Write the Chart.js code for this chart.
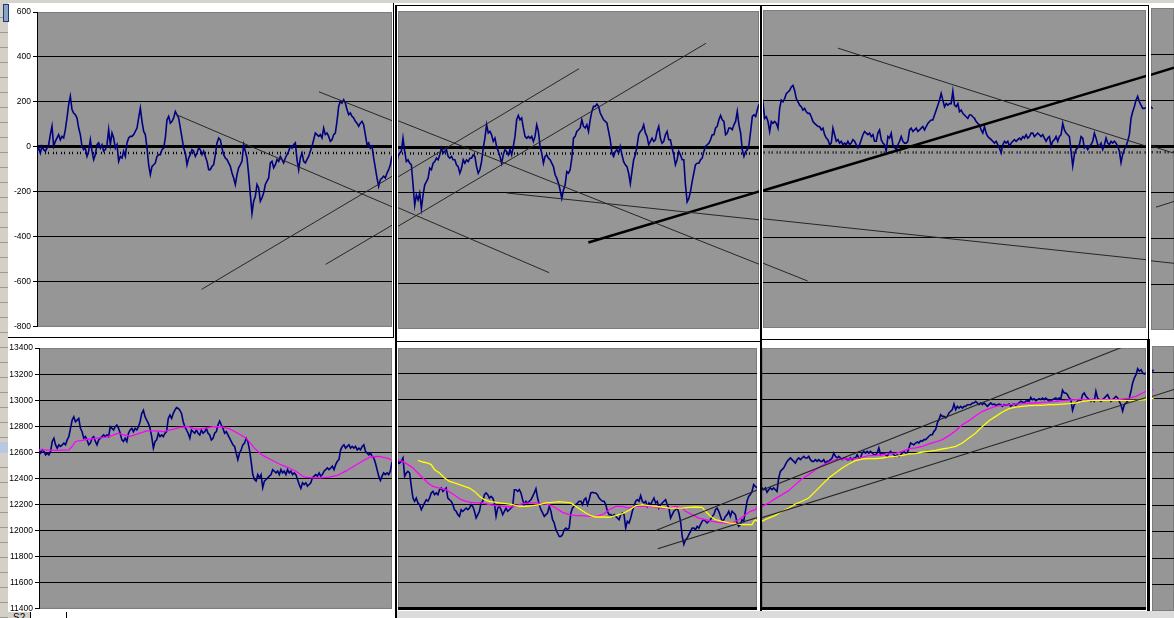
<!DOCTYPE html>
<html>
<head>
<meta charset="utf-8">
<script src="https://cdn.jsdelivr.net/npm/chart.js@4.4.0/dist/chart.umd.min.js"></script>
<style>
html, body { margin: 0; padding: 0; width: 1174px; height: 618px; overflow: hidden; background: #fff; }
body { position: relative; font-family: 'Liberation Sans', Arial, sans-serif; }
.d { position: absolute; }
.k { position: absolute; background: #000; z-index: 2; }
</style>
</head>
<body>
<!-- sheet chrome -->
<div class="d" style="left:0;top:0;width:1174px;height:3px;background:#d6d3ce"></div>
<div class="d" style="left:0;top:3px;width:8px;height:615px;background:repeating-linear-gradient(#d4d0c8 0 14px,#9c9890 14px 15px)"></div>
<div class="d" style="left:3px;top:4px;width:4px;height:16px;border:1px solid #1c3a70;background:#8aa4c4"></div>
<div class="d" style="left:0;top:442px;width:8px;height:11px;background:#b8c8e0"></div>
<!-- window frames -->
<div class="k" style="left:393px;top:3px;width:1px;height:335px"></div>
<div class="k" style="left:395px;top:5px;width:2px;height:613px"></div>
<div class="k" style="left:395px;top:5px;width:754px;height:1px"></div>
<div class="k" style="left:8px;top:337px;width:386px;height:1px"></div>
<div class="k" style="left:395px;top:341px;width:366px;height:1px"></div>
<div class="k" style="left:760px;top:5px;width:2px;height:613px"></div>
<div class="k" style="left:760px;top:339px;width:389px;height:1px"></div>
<div class="k" style="left:1148px;top:5px;width:1px;height:335px"></div>
<div class="k" style="left:1147px;top:339px;width:3px;height:272px"></div>
<div class="d" style="left:397px;top:611px;width:777px;height:7px;background:#dcdcdc;z-index:2"></div>
<div class="d" style="left:8px;top:612px;width:387px;height:6px;background:#fff;z-index:3"></div>
<div class="d" style="left:8px;top:612px;width:22px;height:6px;background:#d4d0c8;z-index:3;overflow:hidden;font:10px 'Liberation Sans',Arial,sans-serif;line-height:11px;text-indent:5px">S2</div>
<div class="d" style="left:30px;top:612px;width:35px;height:6px;border-left:1px solid #000;border-right:1px solid #000;z-index:3"></div>

<script>
// ---- data ----
// upper chart: oscillator, one value per bar (index 0..660)
var osc = [
  -19,-5,-27,3,-12,-19,-5,10,55,92,
  3,25,40,55,32,47,40,77,129,188,
  225,166,151,143,129,84,55,3,-12,-5,
  -42,-19,32,-19,-56,-34,10,18,-5,10,
  -19,-12,10,77,10,62,40,-5,10,-64,
  -42,-49,-19,-42,18,40,47,47,55,69,
  84,129,173,114,69,55,-5,-79,-123,-86,
  -79,-71,-42,-34,-34,-12,-5,40,121,136,
  106,114,129,158,143,129,84,40,-5,-27,
  -79,-49,-34,-12,-19,-42,-27,-5,-12,-34,
  -19,-42,-64,-101,-101,-86,-79,-34,18,40,
  32,-5,-34,-49,-56,-71,-86,-116,-138,-167,
  -123,-93,-79,-64,10,-19,-49,-123,-212,-295,
  -241,-219,-167,-182,-241,-226,-204,-167,-152,-138,
  -71,-64,-93,-79,-56,-64,-42,-56,-71,-49,
  -34,-19,3,-5,10,18,-56,-101,-49,-27,
  -64,-71,-56,-42,-19,3,32,62,55,47,
  55,40,84,55,62,47,25,32,55,62,
  114,180,203,195,210,195,166,143,151,136,
  129,114,106,92,106,114,99,55,10,18,
  -5,3,-49,-93,-138,-175,-145,-138,-130,-138,
  -116,-101,-79,
  -40,-26,-18,40,-18,-63,-55,-70,-77,-165,
  -255,-210,-232,-202,-270,-210,-165,-151,-136,-92,
  -99,-70,-63,-48,-55,-33,-4,-26,-18,-11,
  -40,-48,-40,-55,-55,-77,-85,-114,-92,-55,
  -70,-55,-63,-48,-48,-33,-40,-85,-114,-99,
  -63,-4,40,99,63,70,55,26,40,4,
  -18,-40,-70,-33,-11,-18,-33,-11,-33,4,
  48,121,140,121,129,85,48,40,48,40,
  48,26,48,99,70,4,-26,-70,-40,-33,
  -48,-55,-70,-85,-121,-136,-158,-188,-225,-188,
  -165,-107,-114,-99,-48,40,48,70,77,85,
  121,92,85,99,70,121,158,180,180,190,
  180,151,136,121,114,107,70,33,-26,-40,
  -18,-11,-26,4,-33,-63,-77,-85,-114,-160,
  -107,-55,-33,4,55,70,77,99,63,48,
  11,26,40,26,33,70,92,40,18,26,
  55,70,33,33,-4,-33,-77,-55,-18,-33,
  -55,-55,-165,-240,-225,-195,-151,-114,-77,-70,
  -70,-55,-48,-18,4,11,18,33,55,55,
  85,92,121,140,121,114,55,63,85,85,
  77,99,114,158,99,63,-11,-40,-18,-11,
  11,70,136,143,136,165,190,
  123,130,109,65,109,101,109,101,80,167,
  203,196,210,232,239,246,261,268,246,210,
  196,181,174,159,167,152,145,145,130,109,
  101,94,87,87,72,80,51,36,29,7,
  14,80,51,22,29,14,22,7,14,7,
  22,7,14,29,22,7,-7,7,29,51,
  65,58,51,58,43,51,22,22,58,72,
  29,14,7,-22,43,36,58,7,-7,-14,
  7,22,43,22,14,14,22,72,80,65,
  72,80,65,72,80,87,72,87,101,109,
  116,116,138,159,181,203,232,203,174,188,
  181,188,188,242,181,174,188,152,159,145,
  138,130,123,138,138,130,123,109,101,94,
  72,58,87,58,43,36,29,22,14,22,
  7,-7,-29,7,22,14,22,0,14,22,
  29,22,29,36,29,43,36,51,36,43,
  58,58,43,51,58,51,43,51,36,22,
  36,43,0,22,29,43,22,43,51,101,
  72,58,51,43,-22,-87,-36,-14,-7,7,
  43,36,-7,0,-14,0,7,22,58,36,
  7,0,14,-14,7,36,14,7,22,14,
  22,14,0,-22,-72,-36,-14,0,22,51,
  123,152,174,203,220,196,181,167,167,170,
  162
];

// lower chart: price, one value per bar (index 0..660)
var price = [
  12620,12595,12620,12608,12582,12595,12582,12608,12684,12709,
  12658,12633,12658,12646,12658,12671,12658,12696,12721,12785,
  12848,12873,12835,12848,12861,12785,12759,12709,12721,12696,
  12658,12671,12709,12721,12684,12658,12696,12709,12721,12734,
  12721,12734,12721,12797,12785,12772,12797,12810,12785,12747,
  12696,12684,12709,12684,12747,12772,12785,12759,12785,12772,
  12797,12835,12899,12924,12873,12848,12823,12785,12721,12633,
  12684,12696,12747,12721,12734,12721,12747,12759,12861,12886,
  12861,12899,12924,12944,12937,12924,12899,12835,12797,12772,
  12747,12709,12772,12759,12747,12772,12747,12734,12772,12747,
  12759,12785,12747,12734,12696,12709,12747,12759,12810,12840,
  12810,12785,12747,12759,12734,12709,12684,12658,12646,12595,
  12544,12595,12620,12658,12671,12709,12684,12620,12532,12430,
  12392,12380,12430,12405,12430,12329,12380,12392,12405,12418,
  12430,12468,12456,12443,12456,12430,12468,12443,12456,12430,
  12468,12443,12456,12430,12443,12430,12392,12354,12324,12367,
  12354,12367,12342,12354,12367,12405,12418,12430,12418,12443,
  12418,12430,12456,12468,12481,12468,12481,12494,12468,12506,
  12532,12544,12620,12646,12658,12633,12646,12658,12633,12646,
  12633,12646,12620,12633,12620,12646,12658,12608,12595,12582,
  12595,12570,12557,12519,12468,12418,12385,12418,12443,12430,
  12443,12430,12456,
  12528,12515,12528,12554,12413,12438,12451,12438,12336,12246,
  12221,12246,12208,12195,12156,12182,12208,12233,12221,12246,
  12285,12297,12272,12285,12272,12310,12323,12297,12310,12323,
  12246,12233,12221,12195,12156,12144,12118,12105,12156,12144,
  12156,12169,12156,12169,12195,12182,12144,12092,12118,12144,
  12208,12221,12272,12285,12272,12246,12259,12246,12208,12105,
  12169,12182,12156,12118,12144,12169,12144,12156,12169,12182,
  12310,12310,12297,12310,12285,12233,12195,12221,12208,12221,
  12233,12259,12285,12318,12246,12195,12156,12131,12105,12118,
  12131,12182,12144,12079,12054,12003,11977,11950,11951,11964,
  12003,12015,12003,12015,12131,12169,12182,12195,12208,12221,
  12221,12195,12233,12246,12195,12233,12285,12290,12285,12285,
  12272,12246,12233,12221,12221,12195,12144,12118,12118,12105,
  12118,12105,12092,12079,12118,12131,12118,12015,12067,12054,
  12092,12144,12182,12221,12233,12221,12264,12221,12208,12221,
  12182,12208,12195,12221,12246,12208,12221,12169,12195,12208,
  12221,12233,12195,12169,12092,12118,12144,12156,12169,12131,
  12067,11951,11890,11926,11938,11964,11990,12015,12015,12003,
  12028,12015,12041,12067,12079,12067,12054,12067,12079,12105,
  12118,12156,12169,12144,12105,12067,12079,12105,12118,12144,
  12105,12144,12131,12118,12054,12028,12041,12079,12067,12144,
  12221,12259,12272,12297,12349,12336,
  12323,12310,12323,12290,12310,12323,12310,12323,12310,12297,
  12400,12451,12464,12477,12503,12528,12541,12554,12541,12528,
  12515,12541,12554,12541,12554,12567,12554,12554,12567,12541,
  12528,12528,12541,12528,12541,12528,12528,12541,12515,12528,
  12528,12541,12554,12592,12567,12554,12567,12554,12541,12554,
  12554,12541,12541,12554,12541,12554,12554,12579,12554,12554,
  12592,12605,12592,12605,12592,12605,12592,12579,12579,12592,
  12631,12579,12592,12592,12579,12567,12592,12605,12592,12579,
  12567,12579,12567,12579,12592,12605,12592,12592,12631,12669,
  12662,12656,12669,12677,12669,12687,12682,12695,12695,12708,
  12721,12733,12733,12759,12772,12823,12849,12887,12874,12874,
  12862,12874,12900,12913,12926,12969,12926,12951,12938,12951,
  12938,12951,12951,12964,12964,12964,12977,12977,12990,12977,
  12964,12977,12964,12977,12964,12951,12964,12977,12964,12969,
  12959,12964,12969,12964,12951,12964,12959,12964,12969,12951,
  12964,12969,12959,12969,12977,12990,12985,12977,12990,12995,
  12990,13020,13003,13010,12995,13003,13010,13003,13015,13003,
  13015,13003,12990,12995,13003,13010,13015,13003,13015,13010,
  13075,13054,13054,13041,13015,13003,12920,12964,12977,12990,
  13003,12990,13041,13054,13028,13015,13003,12990,13003,12990,
  13067,13015,13003,12990,13003,13015,13028,13041,13015,12990,
  13003,13015,13028,13015,12990,12964,12915,12964,12977,12990,
  13015,13067,13131,13169,13195,13241,13221,13233,13208,13200,
  13208,13220
];

// moving averages as [bar, value]
var pinkMA = [
  [0,12620],[10,12615],[18,12620],[20,12645],[22,12684],[25,12691],[30,12701],[35,12709],[40,12716],[45,12734],
  [48,12747],[50,12739],[55,12724],[60,12744],[65,12765],[70,12765],[75,12759],[80,12775],[85,12792],[90,12797],
  [95,12777],[100,12785],[105,12797],[110,12797],[115,12780],[120,12747],[125,12709],[130,12633],[135,12577],[140,12544],
  [145,12511],[150,12486],[155,12456],[160,12410],[165,12405],[170,12405],[175,12410],[180,12423],[185,12456],[190,12494],
  [195,12532],[200,12565],[205,12570],[210,12557],[213,12540],[216,12528],[219,12503],[222,12477],[225,12438],[228,12400],
  [231,12362],[234,12336],[238,12323],[242,12310],[245,12285],[248,12259],[251,12233],[254,12221],[257,12213],[260,12208],
  [264,12208],[268,12195],[272,12187],[276,12182],[280,12177],[284,12187],[288,12203],[292,12208],[296,12208],[300,12203],
  [304,12195],[308,12169],[312,12136],[316,12118],[320,12110],[324,12110],[328,12105],[332,12105],[336,12118],[340,12156],
  [344,12182],[348,12182],[352,12169],[356,12182],[360,12182],[364,12182],[368,12177],[372,12169],[376,12169],[380,12182],
  [384,12169],[386,12144],[390,12118],[394,12092],[398,12079],[402,12067],[406,12059],[410,12054],[414,12054],[418,12079],
  [422,12118],[425,12144],[428,12156],[429,12182],[433,12208],[437,12241],[441,12272],[445,12303],[449,12349],[453,12395],
  [457,12426],[461,12464],[465,12495],[469,12523],[473,12541],[477,12546],[481,12546],[485,12549],[489,12559],[493,12572],
  [497,12574],[501,12579],[505,12585],[509,12590],[513,12605],[517,12626],[521,12631],[525,12644],[529,12662],[533,12677],
  [537,12695],[541,12726],[545,12764],[549,12810],[553,12841],[557,12879],[561,12913],[565,12933],[569,12951],[573,12959],
  [577,12964],[581,12969],[585,12972],[589,12977],[593,12977],[597,12982],[601,12985],[605,12990],[609,12995],[613,13000],
  [617,13003],[621,13003],[625,13003],[629,13003],[633,13003],[637,13003],[641,13003],[645,13008],[649,13015],[653,13028],
  [657,13054],[659,13067],[660,13070]
];
var yellowMA = [
  [225,12536],[228,12523],[231,12515],[233,12503],[235,12464],[238,12438],[241,12400],[244,12374],[247,12362],[250,12349],
  [253,12336],[256,12323],[259,12297],[262,12259],[265,12233],[268,12221],[271,12215],[274,12208],[278,12203],[282,12195],
  [286,12182],[290,12182],[294,12187],[298,12195],[302,12208],[306,12213],[310,12218],[314,12213],[317,12208],[320,12182],
  [323,12156],[326,12131],[329,12110],[332,12100],[336,12100],[340,12097],[344,12110],[348,12126],[351,12144],[354,12169],
  [356,12187],[360,12195],[364,12187],[368,12182],[372,12177],[376,12169],[380,12169],[384,12169],[388,12174],[392,12177],
  [396,12174],[398,12144],[401,12105],[404,12079],[408,12067],[412,12054],[416,12049],[420,12041],[424,12041],[426,12041],
  [427,12067],[428,12079],[429,12067],[433,12092],[437,12113],[441,12144],[445,12169],[449,12200],[453,12221],[457,12246],
  [461,12297],[465,12349],[469,12400],[473,12438],[477,12477],[481,12508],[485,12533],[489,12546],[493,12549],[497,12549],
  [501,12554],[505,12562],[509,12567],[513,12574],[517,12585],[521,12587],[525,12600],[529,12605],[533,12613],[537,12623],
  [541,12631],[545,12644],[549,12669],[553,12708],[557,12746],[561,12797],[565,12841],[569,12874],[573,12908],[577,12933],
  [581,12946],[585,12951],[589,12956],[593,12959],[597,12959],[601,12964],[605,12964],[609,12969],[613,12972],[617,12977],
  [621,12990],[625,12995],[629,12997],[637,12997],[645,12997],[653,12997],[659,13003],[660,13005]
];

// hand-drawn trend lines: [bar0, value0, bar1, value1]
var topLines = [
  [83.8, 143, 303.4, -552],
  [169.2, 245, 455.8, -593],
  [98.8, -633, 321.3, 346],
  [173.2, -522, 397.3, 458],
  [278, -201, 672.8, -510],
  [326.9, -419, 672.8, 340],
  [474, 432, 672.2, -30],
  [662, -266, 672.8, -241]
];
var topLineWidths = [1, 1, 1, 1, 1, 2.5, 1, 1];
var bottomLines = [
  [368.1, 11997, 647.4, 13420],
  [369.3, 11856, 672.2, 13072]
];
var dotLevel = -27;

var topTicks = [600, 400, 200, 0, -200, -400, -600, -800];
var bottomTicks = [13400, 13200, 13000, 12800, 12600, 12400, 12200, 12000, 11800, 11600, 11400];

// ---- drawing ----
Chart.defaults.font.family = "'Liberation Sans', Arial, sans-serif";
var GRAY = '#969696';
var NAVY = '#000080';

var plotBack = {
  id: 'plotBack',
  beforeDraw: function (chart) {
    var a = chart.chartArea, ctx = chart.ctx;
    ctx.save();
    ctx.fillStyle = GRAY;
    ctx.fillRect(a.left, a.top, a.right - a.left, a.bottom - a.top);
    ctx.strokeStyle = '#7d7d7d';
    ctx.lineWidth = 1;
    ctx.strokeRect(a.left + 0.5, a.top + 0.5, a.right - a.left - 1, a.bottom - a.top - 1);
    ctx.restore();
  }
};

function pts(values) { return values.map(function (v, i) { return { x: i, y: v }; }); }
function pairPts(pairs) { return pairs.map(function (p) { return { x: p[0], y: p[1] }; }); }
function seg(l) { return [{ x: l[0], y: l[1] }, { x: l[2], y: l[3] }]; }

function line(data, color, width, extra) {
  var ds = { data: data, borderColor: color, borderWidth: width, pointRadius: 0, tension: 0, fill: false };
  return Object.assign(ds, extra || {});
}

function topSets() {
  var sets = topLines.map(function (l, k) {
    return line(seg(l), topLineWidths[k] > 1 ? '#000' : '#262626', topLineWidths[k]);
  });
  sets.push(line(pts(osc), NAVY, 1.6));
  sets.push(line([{ x: 0, y: dotLevel }, { x: 673, y: dotLevel }], '#000', 2.5, { borderDash: [1, 2, 1, 4] }));
  return sets;
}

function bottomSets() {
  var sets = bottomLines.map(function (l) {
    return line(seg(l), '#262626', 1.1, { clip: { left: 0, right: 0, top: 3, bottom: 0 } });
  });
  sets.push(line(pairPts(yellowMA), '#ffff00', 1.3));
  sets.push(line(pairPts(pinkMA), '#ff00ff', 1.3));
  sets.push(line(pts(price), NAVY, 1.6));
  return sets;
}

function makePanel(p, datasets, ticks, yMin, yMax) {
  var cv = document.createElement('canvas');
  cv.width = p.w;
  cv.height = p.h;
  cv.style.cssText = 'position:absolute;z-index:1;left:' + p.left + 'px;top:' + p.top +
    'px;width:' + p.w + 'px;height:' + p.h + 'px';
  document.body.appendChild(cv);
  var asc = ticks.slice().sort(function (a, b) { return a - b; });
  new Chart(cv.getContext('2d'), {
    type: 'line',
    data: { datasets: datasets },
    plugins: [plotBack],
    options: {
      responsive: false,
      animation: false,
      events: [],
      normalized: true,
      layout: { padding: p.pad || 0 },
      plugins: { legend: { display: false }, tooltip: { enabled: false } },
      scales: {
        x: {
          type: 'linear', min: p.x0, max: p.x1, display: !!p.axisLine,
          ticks: { display: false },
          grid: { display: false, drawTicks: false },
          border: { display: !!p.axisLine, color: '#000', width: 3 }
        },
        y: {
          min: yMin, max: yMax,
          afterBuildTicks: function (s) { s.ticks = asc.map(function (v) { return { value: v }; }); },
          afterFit: function (s) { s.width = p.axisW || 0; },
          ticks: {
            display: !!p.labels, color: '#000', padding: 2, autoSkip: false,
            font: { size: 8.5 },
            callback: function (v) { return String(v); }
          },
          grid: {
            color: function (c) {
              return (c.tick && (c.tick.value === yMin || c.tick.value === yMax)) ? 'rgba(0,0,0,0)' : '#000';
            },
            lineWidth: function (c) { return (c.tick && c.tick.value === 0) ? 3 : 1; },
            drawTicks: !!p.labels, tickLength: 4, tickColor: '#000', tickWidth: 1
          },
          border: { display: !!p.labels, color: '#000', width: 1 }
        }
      }
    }
  });
}

var topPanels = [
  { left: 8, top: 4, w: 385, h: 330, axisW: 29, labels: true, pad: { top: 8, bottom: 6, right: 1, left: 0 }, x0: 0, x1: 213 },
  { left: 398, top: 11, w: 361, h: 318, x0: 213, x1: 429 },
  { left: 763, top: 10, w: 383, h: 318, x0: 429, x1: 659 },
  { left: 1151, top: 8, w: 23, h: 322, x0: 659, x1: 672.8 }
];
var bottomPanels = [
  { left: 8, top: 341, w: 385, h: 275, axisW: 31, labels: true, pad: { top: 6, bottom: 6, right: 1, left: 0 }, x0: 0, x1: 213 },
  { left: 398, top: 348, w: 359, h: 262, axisLine: true, pad: { top: 0, bottom: 2, left: 0, right: 0 }, x0: 213, x1: 429 },
  { left: 762, top: 348, w: 384, h: 262, axisLine: true, pad: { top: 0, bottom: 2, left: 0, right: 0 }, x0: 429, x1: 659 },
  { left: 1152, top: 346, w: 22, h: 265, x0: 659, x1: 672.2 }
];

topPanels.forEach(function (p) { makePanel(p, topSets(), topTicks, -800, 600); });
bottomPanels.forEach(function (p) { makePanel(p, bottomSets(), bottomTicks, 11400, 13400); });
</script>
</body>
</html>
